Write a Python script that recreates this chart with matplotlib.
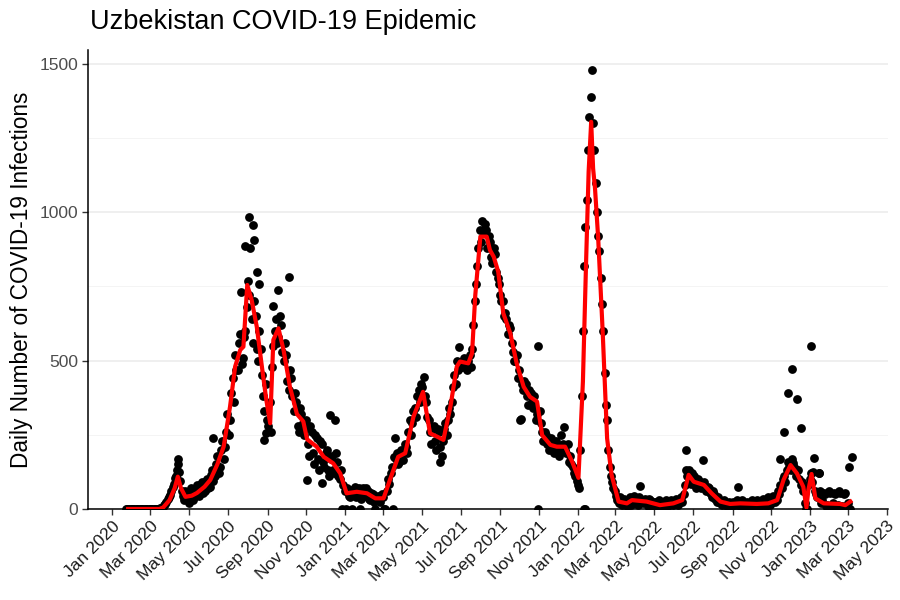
import numpy as np
import pandas as pd
import matplotlib.pyplot as plt
import matplotlib.dates as mdates

plt.rcParams['font.family'] = ['Liberation Sans', 'DejaVu Sans']

# day numbers are counted from 2020-01-01
origin = pd.Timestamp('2020-01-01')

dot_start_a = '2020-01-22'
dot_values_a = [
    0, 0, 0, 0, 0, 0, 0, 0, 0, 0, 0, 0, 0, 0,
    5, 12, 25, 40, 60, 85, 130, 125, 60, 30,
    55, 20, 60, 40, 80, 45, 90, 60, 100, 75,
    130, 110, 180, 140, 230, 210, 320, 300, 440, 520,
    470, 590, 510, 600, 770, 880, 560, 650, 500, 540,
    380, 420, 280, 260, 550, 640, 580, 620, 500, 520,
    400, 440, 330, 360, 260, 320, 250, 300, 180, 260,
    150, 240, 130, 220, 140, 200, 110, 180, 120, 160,
    100, 0, 60, 70, 40, 0, 75, 50, 0, 70,
    45, 60, 30, 50, 0, 45, 25, 40, 0, 100,
    120, 0, 170, 150, 200, 165, 210, 260, 250, 330,
    310, 400, 420, 445, 360, 300, 220, 280, 200, 260,
    180, 270, 250, 340, 360, 450, 500, 545, 480, 510,
    470, 520, 540, 700, 820, 940, 970, 960, 880, 900,
    830, 860, 780, 720, 700, 660, 590, 610, 530, 500,
    440, 300, 400, 420, 350, 390, 340, 300, 0, 290,
    230, 250, 200, 240, 190, 230, 180, 250, 275, 190,
    160, 150, 120, 95, 70, 380, 820, 1040, 1320, 1480,
    1210, 1000, 870, 690, 460, 300, 140, 90, 60, 30,
    40, 15, 30, 10, 40, 20, 35, 15, 78, 20,
    35, 10, 30, 5, 25, 10, 20, 5, 30, 10,
    30, 15, 35, 15, 40, 50, 130, 130, 85, 110,
    70, 95, 70, 90, 60, 70, 40, 50, 25, 30,
    15, 30, 10, 25, 10, 20, 30, 10, 30, 10,
    25, 10, 30, 10, 30, 10, 35, 15, 40, 15,
    45, 25, 60, 80, 100, 90, 160, 130, 155, 110,
    130, 80, 60, 0, 80, 120, 125, 50, 120, 20,
    55, 10, 60, 10, 55, 5, 60, 10, 50, 0, 140, 175,
]

dot_start_b = '2020-01-24'
dot_values_b = [
    0, 0, 0, 0, 0, 0, 0, 0, 0, 0, 0, 0, 0, 3,
    8, 18, 35, 48, 75, 105, 150, 95, 45, 60,
    35, 70, 30, 65, 50, 85, 55, 95, 70, 115,
    95, 150, 120, 200, 170, 260, 250, 390, 360, 470,
    560, 490, 580, 680, 720, 640, 700, 540, 600, 450,
    330, 300, 360, 480, 600, 560, 650, 530, 560, 430,
    470, 380, 390, 280, 340, 290, 270, 220, 280, 190,
    250, 170, 230, 160, 190, 130, 170, 130, 190, 110,
    130, 80, 0, 45, 65, 60, 40, 70, 35, 55,
    70, 35, 55, 25, 40, 30, 50, 0, 60, 85,
    140, 175, 190, 160, 185, 220, 190, 300, 290, 340,
    380, 360, 410, 380, 310, 260, 270, 230, 270, 210,
    230, 290, 300, 320, 410, 420, 470, 480, 500, 490,
    500, 480, 620, 760, 880, 900, 930, 940, 920, 850,
    880, 800, 760, 700, 650, 640, 620, 560, 500, 520,
    470, 420, 430, 380, 400, 360, 380, 320, 330, 260,
    260, 220, 230, 200, 220, 210, 200, 220, 200, 220,
    180, 140, 110, 80, 200, 600, 950, 1210, 1390, 1300,
    1100, 920, 780, 600, 350, 200, 110, 70, 45, 20,
    25, 35, 20, 30, 15, 45, 25, 40, 25, 30,
    20, 35, 15, 25, 15, 30, 10, 25, 15, 25,
    20, 25, 20, 30, 25, 80, 110, 100, 120, 80,
    100, 75, 85, 70, 75, 55, 60, 35, 40, 20,
    25, 15, 20, 10, 25, 15, 25, 15, 25, 15,
    20, 15, 25, 15, 25, 15, 30, 10, 30, 20,
    35, 30, 50, 70, 110, 130, 140, 170, 140, 130,
    100, 90, 20, 0, 100, 90, 60, 40, 60, 30,
    50, 15, 55, 20, 50, 15, 55, 5, 55, 20, 0,
]

# extra single days that stand out from the band
extra_days = [100, 104, 159, 202, 209, 215, 221, 223, 227, 230, 238, 242,
              253, 261, 277, 306, 329, 342, 350, 444, 515, 642, 669, 740,
              743, 901, 928, 983, 1048, 1054, 1061, 1068, 1075, 1082,
              1097, 1102, 1110]
extra_values = [110, 167, 238, 733, 886, 983, 957, 907, 800, 760, 233, 255,
                684, 738, 783, 98, 88, 317, 300, 240, 160, 303, 549, 0,
                0, 200, 165, 75, 168, 260, 390, 471, 371, 272,
                549, 171, 122]

# smoothed curve (red)
smooth_days = [25, 74, 80, 90, 98, 103, 108, 115, 125, 133, 145, 154, 165,
               175, 185, 193, 201, 206, 212, 219, 227, 235, 242, 248, 253,
               261, 269, 279, 290, 300, 306, 321, 332, 347, 358, 368, 384,
               400, 413, 426, 436, 449, 460, 473, 488, 499, 510, 520, 531,
               541, 546, 559, 565, 570, 578, 588, 593, 599, 606, 614, 625,
               635, 646, 656, 667, 675, 688, 698, 711, 722, 732, 739, 744,
               748, 752, 755, 758, 763, 770, 777, 784, 795, 808, 816, 839,
               860, 881, 895, 905, 913, 929, 941, 955, 970, 986, 1012, 1030,
               1044, 1054, 1065, 1075, 1085, 1090, 1093, 1098, 1104, 1117,
               1143, 1151, 1159]
smooth_values = [0, 0, 5, 30, 70, 109, 70, 41, 45, 54, 75, 98, 150,
                 210, 345, 480, 536, 547, 755, 704, 614, 480, 367, 289, 570,
                 609, 536, 412, 320, 295, 235, 210, 176, 154, 120, 53, 58,
                 53, 36, 36, 98, 176, 188, 311, 395, 255, 244, 233, 345,
                 480, 497, 491, 525, 720, 918, 918, 873, 850, 800, 660, 592,
                 491, 412, 378, 362, 249, 216, 210, 210, 160, 105, 429, 833,
                 1137, 1305, 1148, 1081, 912, 600, 238, 115, 25, 19, 30, 25,
                 13, 19, 30, 115, 92, 81, 53, 25, 17, 19, 17, 19,
                 30, 98, 148, 120, 75, 5, 64, 118, 36, 19,
                 17, 13, 25]

tick_dates = pd.date_range('2020-01-01', '2023-05-01', freq='2MS')

dates_a = pd.date_range(dot_start_a, periods=len(dot_values_a), freq='4D')
dates_b = pd.date_range(dot_start_b, periods=len(dot_values_b), freq='4D')
extra_dates = origin + pd.to_timedelta(extra_days, unit='D')
smooth_dates = origin + pd.to_timedelta(smooth_days, unit='D')

fig = plt.figure(figsize=(9, 6), dpi=100)
ax = fig.add_axes([88 / 900, 91 / 600, 800 / 900, 459 / 600])

for d, v in [(dates_a, dot_values_a), (dates_b, dot_values_b),
             (extra_dates, extra_values)]:
    ax.scatter(d, v, s=40, color='black', linewidths=0, zorder=2)
ax.plot(smooth_dates, smooth_values, color='red', lw=3, zorder=3)

ax.set_xlim(pd.Timestamp('2019-11-24'), pd.Timestamp('2023-05-03'))
ax.set_ylim(0, 1547)

ax.set_xticks(tick_dates)
ax.xaxis.set_major_formatter(mdates.DateFormatter('%b %Y'))
plt.setp(ax.get_xticklabels(), rotation=45, ha='right', rotation_mode='anchor')

ax.set_yticks([0, 500, 1000, 1500])
ax.set_yticks([250, 750, 1250], minor=True)
ax.yaxis.grid(True, which='major', color='#EBEBEB', lw=1.1)
ax.yaxis.grid(True, which='minor', color='#F2F2F2', lw=0.6)
ax.set_axisbelow(True)

for side in ['top', 'right']:
    ax.spines[side].set_visible(False)
for side in ['left', 'bottom']:
    ax.spines[side].set_linewidth(1.1)
    ax.spines[side].set_color('black')

ax.tick_params(axis='both', which='major', length=4, width=1, color='#333333')
ax.tick_params(axis='y', which='minor', length=0)
ax.tick_params(axis='y', labelsize=12.6, labelcolor='#4D4D4D', pad=3)
ax.tick_params(axis='x', labelsize=12.6, labelcolor='#1A1A1A', pad=3)

ax.set_ylabel('Daily Number of COVID-19 Infections', fontsize=16.3)
ax.yaxis.set_label_coords(-55 / 800, 0.5)
fig.text(90 / 900, 1 - 22 / 600, 'Uzbekistan COVID-19 Epidemic', fontsize=19.5,
         ha='left', va='center')

fig.savefig('out.png', dpi=100)
